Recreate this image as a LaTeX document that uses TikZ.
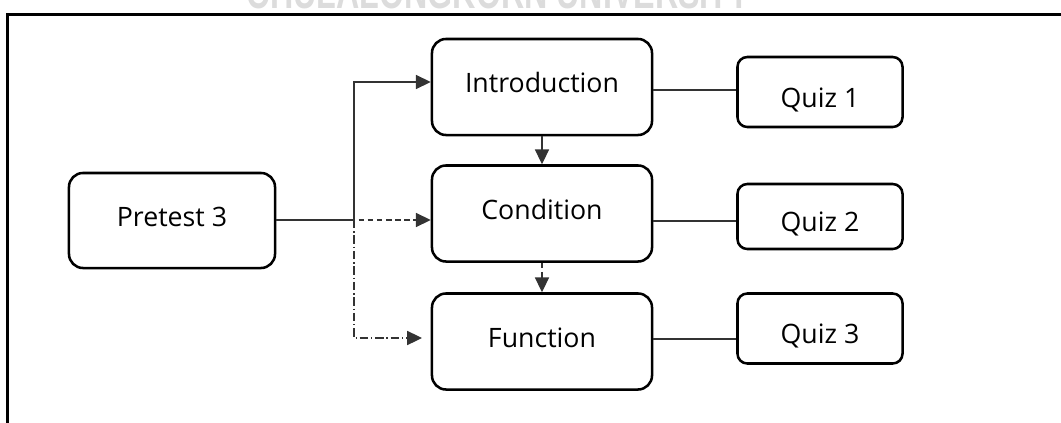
\documentclass[tikz,border=0pt]{standalone}
\usepackage{fontspec}
\setmainfont{Open Sans}
\newfontfamily\markfont{Liberation Sans}
\usepackage{xcolor}
\usetikzlibrary{arrows.meta}
\definecolor{wire}{HTML}{333333}
\definecolor{markgrey}{HTML}{DCDCDC}

\begin{document}
\begin{tikzpicture}[
  x=0.025cm, y=-0.025cm,
  font=\fontsize{19}{22}\selectfont,
  unit/.style={draw=black, line width=1.8pt, rounded corners=10pt,
               minimum width=5.5cm, minimum height=2.4cm, inner sep=0pt,
               text height=14pt, text depth=6pt},
  pre/.style={unit, minimum width=5.15cm, minimum height=2.375cm},
  quiz/.style={draw=black, line width=1.8pt, rounded corners=7pt,
               minimum width=4.125cm, minimum height=1.75cm, inner sep=0pt,
               text height=22pt, text depth=0pt},
  link/.style={draw=wire, line width=0.9pt},
  flow/.style={link, -{Triangle[length=10.5pt,width=10pt]}},
  dashline/.style={dash pattern=on 4pt off 2.5pt},
  dotline/.style={dash pattern=on 6pt off 2pt on 1pt off 2pt}
]

\useasboundingbox (0,0) rectangle (1061,422);

% ---- frame and watermark ------------------------------------------------
\draw[line width=1.9pt] (7.5,440) -- (7.5,14.5) -- (1080,14.5);
\node[anchor=south, inner sep=0pt, text=markgrey] (mark) at (498.5,9.5)
  {\resizebox{12.575cm}{0.8cm}{\markfont\bfseries CHULALONGKORN UNIVERSITY}};

% ---- boxes --------------------------------------------------------------
\node[pre]  (pretest) at (172,220.5) {Pretest 3};
\node[unit] (intro)   at (542,87)    {Introduction};
\node[unit] (cond)    at (542,213.5) {Condition};
\node[unit] (func)    at (542,341.5) {Function};
\node[quiz] (q1)      at (820,92)    {Quiz 1};
\node[quiz, minimum height=1.625cm] (q2) at (820,216.5) {Quiz 2};
\node[quiz] (q3)      at (820,328.5) {Quiz 3};

\coordinate (fork)   at (354,220);
\coordinate (tofunc) at (422,338);

% ---- connectors ---------------------------------------------------------
\draw[flow] (pretest.east |- fork) -- (fork) |- (intro.west |- 0,82);
\draw[flow, dashline] (pretest.east |- fork) -- (cond.west |- fork);
\draw[flow, dotline] (fork) |- (tofunc);
\draw[flow] (intro) -- (cond);
\draw[flow, dashline] (cond) -- (func);
\draw[link] (intro.east |- 0,90) -- (q1.west |- 0,90);
\draw[link] (cond.east |- 0,221) -- (q2.west |- 0,221);
\draw[link] (func.east |- 0,339) -- (q3.west |- 0,339);

\end{tikzpicture}
\end{document}
